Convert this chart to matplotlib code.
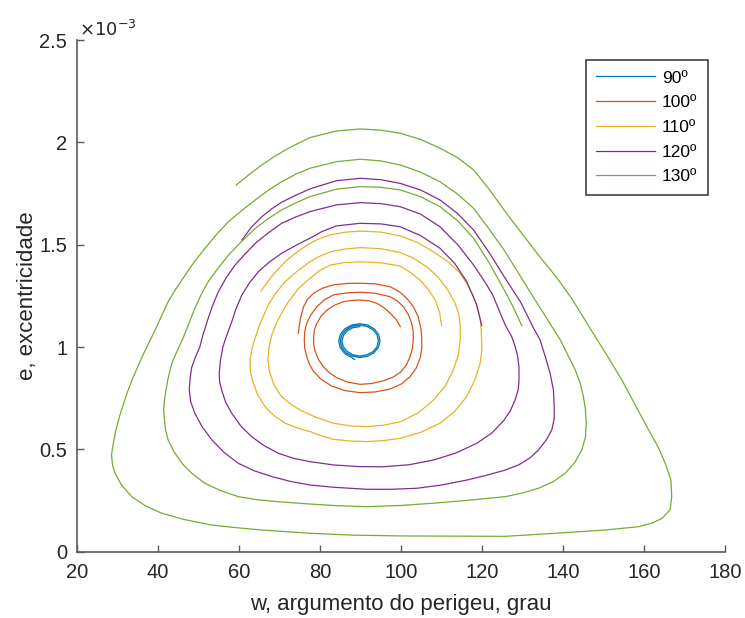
import matplotlib.pyplot as plt
from matplotlib.ticker import FuncFormatter

plt.rcParams['font.family'] = ['Liberation Sans', 'DejaVu Sans']

labels = ['90º', '100º', '110º', '120º', '130º']
colors = ['#0072BD', '#D95319', '#EDB120', '#7E2F8E', '#77AC30']

# (w in degrees, e in units of 1e-3), read along each trajectory from its start
pts_90 = [(89.80, 1.100), (88.14, 1.095), (86.72, 1.080), (85.76, 1.057), (85.40, 1.030),
          (85.71, 1.002), (86.65, 0.979), (88.09, 0.962), (89.80, 0.956), (91.53, 0.962),
          (93.02, 0.977), (94.03, 1.001), (94.40, 1.030), (94.07, 1.059), (93.09, 1.084),
          (91.59, 1.101), (89.80, 1.107), (87.99, 1.102), (86.44, 1.085), (85.39, 1.060),
          (85.00, 1.030), (85.34, 0.999), (86.37, 0.973), (87.93, 0.956), (89.80, 0.949),
          (91.69, 0.955), (93.30, 0.972), (94.40, 0.999), (94.80, 1.030), (94.44, 1.062),
          (93.37, 1.089), (91.74, 1.108), (89.80, 1.114), (87.84, 1.108), (86.16, 1.090),
          (85.02, 1.063), (84.60, 1.030), (84.97, 0.997), (86.09, 0.968), (87.78, 0.949),
          (88.50, 0.939)]

pts_100 = [(99.8, 1.100), (98.8, 1.135), (97.3, 1.165), (95.8, 1.192), (94.0, 1.214),
           (92.0, 1.226), (89.9, 1.230), (87.8, 1.228), (85.8, 1.222), (83.6, 1.205),
           (81.7, 1.181), (80.2, 1.150), (79.2, 1.116), (78.6, 1.085), (78.4, 1.051),
           (78.4, 1.015), (78.8, 0.978), (79.6, 0.940), (80.8, 0.904), (82.3, 0.875),
           (84.1, 0.850), (86.9, 0.828), (89.9, 0.818), (92.8, 0.822), (95.6, 0.835),
           (98.0, 0.853), (99.8, 0.877), (101.3, 0.912), (102.2, 0.953), (102.8, 0.995),
           (103.0, 1.035), (103.0, 1.075), (102.6, 1.116), (101.8, 1.158), (100.6, 1.197),
           (99.1, 1.225), (97.3, 1.246), (93.6, 1.263), (89.9, 1.268), (86.6, 1.265),
           (83.3, 1.255), (81.0, 1.230), (79.2, 1.197), (77.7, 1.157), (76.7, 1.116),
           (76.2, 1.075), (76.1, 1.035), (76.2, 0.995), (76.7, 0.953), (77.4, 0.915),
           (78.4, 0.880), (80.3, 0.842), (82.8, 0.810), (86.2, 0.787), (89.9, 0.777),
           (93.7, 0.781), (97.3, 0.795), (100.1, 0.820), (102.2, 0.855), (103.8, 0.900),
           (104.8, 0.953), (105.1, 0.995), (105.1, 1.035), (104.9, 1.090), (104.2, 1.149),
           (103.1, 1.195), (101.4, 1.238), (99.6, 1.270), (97.3, 1.295), (93.6, 1.309),
           (89.9, 1.312), (86.6, 1.311), (83.3, 1.304), (80.6, 1.288), (78.4, 1.263),
           (76.9, 1.233), (75.9, 1.197), (75.1, 1.135), (74.6, 1.067)]

pts_110 = [(110.0, 1.105), (109.5, 1.170), (108.4, 1.230), (106.8, 1.280), (104.7, 1.327),
           (102.3, 1.365), (99.8, 1.396), (95.0, 1.412), (89.9, 1.417), (86.0, 1.413),
           (82.5, 1.401), (79.8, 1.373), (77.5, 1.336), (74.6, 1.285), (72.2, 1.222),
           (70.6, 1.170), (69.3, 1.120), (68.1, 1.060), (67.4, 1.000), (67.1, 0.940),
           (67.5, 0.880), (68.6, 0.815), (70.5, 0.758), (72.8, 0.720), (75.3, 0.690),
           (79.2, 0.655), (83.3, 0.628), (87.4, 0.615), (91.5, 0.611), (95.6, 0.618),
           (99.8, 0.635), (104.2, 0.678), (108.0, 0.741), (110.9, 0.810), (112.9, 0.888),
           (114.1, 0.960), (114.6, 1.035), (114.6, 1.100), (114.3, 1.157), (113.2, 1.220),
           (111.5, 1.279), (109.2, 1.340), (106.5, 1.390), (103.2, 1.433), (99.8, 1.462),
           (95.0, 1.481), (89.9, 1.486), (86.0, 1.479), (82.5, 1.465), (79.8, 1.443),
           (77.5, 1.417), (74.3, 1.370), (71.4, 1.320), (69.1, 1.265), (67.2, 1.206),
           (65.3, 1.120), (63.8, 1.035), (63.1, 0.985), (62.7, 0.937), (62.8, 0.880),
           (63.5, 0.823), (64.7, 0.763), (66.4, 0.709), (68.6, 0.665), (71.4, 0.628),
           (74.3, 0.605), (77.5, 0.587), (80.3, 0.566), (83.3, 0.549), (87.4, 0.541),
           (91.5, 0.538), (95.6, 0.543), (99.8, 0.554), (104.8, 0.583), (109.6, 0.628),
           (113.2, 0.685), (116.2, 0.758), (118.2, 0.840), (119.5, 0.921), (119.9, 0.980),
           (119.9, 1.035), (119.6, 1.130), (118.9, 1.190), (117.8, 1.250), (116.2, 1.310),
           (114.3, 1.367), (111.4, 1.420), (108.0, 1.465), (104.2, 1.510), (99.8, 1.543),
           (95.0, 1.562), (89.9, 1.567), (86.0, 1.561), (82.5, 1.548), (79.8, 1.530),
           (77.5, 1.507), (74.3, 1.465), (71.4, 1.417), (68.2, 1.350), (65.4, 1.274)]

pts_120 = [(119.9, 1.105), (118.6, 1.210), (116.2, 1.320), (113.2, 1.410), (109.6, 1.483),
           (104.8, 1.545), (99.8, 1.588), (95.0, 1.602), (89.9, 1.605), (84.0, 1.592),
           (80.5, 1.565), (77.5, 1.532), (74.0, 1.497), (70.5, 1.458), (67.5, 1.416),
           (64.8, 1.369), (62.6, 1.315), (60.7, 1.255), (59.3, 1.190), (58.3, 1.130),
           (57.0, 1.060), (56.0, 1.000), (55.4, 0.935), (55.1, 0.872), (55.2, 0.830),
           (55.7, 0.790), (56.7, 0.730), (58.2, 0.676), (60.4, 0.615), (63.1, 0.562),
           (66.2, 0.518), (69.7, 0.481), (73.5, 0.456), (77.5, 0.440), (83.3, 0.424),
           (89.5, 0.416), (95.6, 0.415), (102.0, 0.425), (108.0, 0.448), (113.5, 0.482),
           (118.7, 0.530), (122.4, 0.580), (125.3, 0.640), (127.0, 0.690), (128.1, 0.740),
           (128.9, 0.790), (129.1, 0.839), (129.1, 0.900), (128.8, 0.953), (128.2, 1.000),
           (127.3, 1.051), (125.7, 1.108), (122.5, 1.260), (120.3, 1.330), (117.9, 1.401),
           (114.0, 1.500), (109.6, 1.588), (104.8, 1.650), (99.8, 1.686), (95.0, 1.701),
           (89.9, 1.706), (84.0, 1.695), (77.5, 1.662), (74.0, 1.636), (70.5, 1.605),
           (67.2, 1.558), (64.0, 1.507), (61.5, 1.455), (59.0, 1.401), (56.8, 1.338),
           (54.9, 1.271), (53.4, 1.200), (52.2, 1.130), (51.1, 1.060), (50.3, 1.000),
           (49.2, 0.950), (48.3, 0.900), (47.9, 0.845), (47.7, 0.790), (48.1, 0.730),
           (49.1, 0.676), (50.9, 0.610), (53.3, 0.546), (56.3, 0.485), (59.8, 0.432),
           (63.8, 0.395), (68.1, 0.367), (72.8, 0.343), (77.5, 0.326), (83.3, 0.315),
           (91.5, 0.305), (97.5, 0.305), (103.9, 0.310), (110.0, 0.326), (116.2, 0.350),
           (121.0, 0.373), (125.7, 0.399), (129.0, 0.424), (131.8, 0.458), (133.9, 0.497),
           (135.8, 0.545), (137.2, 0.595), (137.8, 0.650), (137.8, 0.709), (137.6, 0.790),
           (136.8, 0.870), (135.6, 0.953), (134.3, 1.035), (132.5, 1.100), (129.5, 1.220),
           (125.7, 1.336), (121.8, 1.460), (117.9, 1.572), (113.8, 1.655), (109.6, 1.719),
           (104.8, 1.768), (99.8, 1.800), (95.0, 1.818), (89.9, 1.825), (84.0, 1.813),
           (77.5, 1.773), (74.0, 1.742), (70.5, 1.708), (68.0, 1.675), (65.6, 1.637),
           (63.0, 1.585), (60.7, 1.523)]

pts_130 = [(129.8, 1.105), (127.8, 1.190), (125.7, 1.271), (121.8, 1.410), (117.9, 1.532),
           (113.8, 1.620), (109.6, 1.686), (104.8, 1.735), (99.8, 1.768), (95.0, 1.781),
           (89.9, 1.784), (84.0, 1.772), (77.5, 1.735), (74.0, 1.705), (70.5, 1.670),
           (67.2, 1.628), (64.0, 1.580), (60.7, 1.518), (57.4, 1.450), (54.8, 1.385),
           (52.4, 1.320), (50.6, 1.255), (49.1, 1.190), (47.7, 1.120), (46.3, 1.050),
           (44.7, 0.980), (43.4, 0.921), (42.4, 0.840), (41.7, 0.758), (41.4, 0.700),
           (41.5, 0.660), (41.8, 0.600), (42.5, 0.546), (43.9, 0.490), (45.9, 0.432),
           (48.5, 0.380), (51.6, 0.334), (55.5, 0.298), (59.8, 0.269), (64.5, 0.254),
           (69.7, 0.244), (77.5, 0.233), (84.0, 0.225), (91.5, 0.220), (100.0, 0.226),
           (108.0, 0.237), (117.0, 0.252), (125.7, 0.269), (130.0, 0.287), (133.9, 0.310),
           (137.5, 0.342), (140.5, 0.383), (142.9, 0.437), (144.6, 0.497), (145.5, 0.560),
           (145.7, 0.628), (145.5, 0.695), (145.0, 0.758), (144.2, 0.823), (143.0, 0.888),
           (141.2, 0.960), (139.3, 1.035), (135.8, 1.145), (132.3, 1.255), (129.0, 1.360),
           (125.7, 1.466), (121.8, 1.575), (117.9, 1.678), (113.8, 1.750), (109.6, 1.808),
           (104.8, 1.855), (99.8, 1.890), (95.0, 1.910), (89.9, 1.918), (84.0, 1.906),
           (77.5, 1.874), (74.0, 1.845), (70.5, 1.808), (67.2, 1.766), (64.0, 1.719),
           (60.7, 1.668), (57.4, 1.613), (54.4, 1.550), (51.6, 1.483), (49.0, 1.418),
           (46.7, 1.352), (44.5, 1.287), (42.5, 1.222), (40.8, 1.150), (39.3, 1.084),
           (37.7, 1.020), (36.3, 0.962), (34.9, 0.900), (33.6, 0.840), (32.4, 0.778),
           (31.4, 0.718), (30.4, 0.655), (29.6, 0.595), (29.0, 0.534), (28.5, 0.473),
           (28.8, 0.420), (29.4, 0.383), (31.0, 0.325), (33.5, 0.269), (36.8, 0.225),
           (40.9, 0.188), (46.5, 0.157), (53.3, 0.130), (59.5, 0.117), (65.6, 0.106),
           (77.5, 0.090), (88.0, 0.081), (99.8, 0.077), (112.0, 0.076), (125.7, 0.075),
           (138.0, 0.090), (150.4, 0.106), (158.6, 0.122), (162.0, 0.140), (164.4, 0.163),
           (166.4, 0.204), (166.8, 0.269), (166.6, 0.350), (165.2, 0.432), (163.5, 0.510),
           (161.1, 0.595), (158.0, 0.710), (154.5, 0.839), (150.8, 0.960), (146.9, 1.084),
           (142.1, 1.238), (138.2, 1.345), (133.9, 1.450), (129.8, 1.556), (125.7, 1.662),
           (121.8, 1.770), (117.9, 1.866), (114.0, 1.925), (109.6, 1.972), (104.8, 2.015),
           (99.8, 2.045), (95.0, 2.060), (89.9, 2.066), (84.0, 2.056), (77.5, 2.024),
           (72.2, 1.972), (68.8, 1.932), (65.6, 1.890), (62.4, 1.842), (59.3, 1.792)]

series = [pts_90, pts_100, pts_110, pts_120, pts_130]

fig = plt.figure(figsize=(7.45, 6.18), dpi=100)
ax = fig.add_axes([0.1034, 0.1073, 0.870, 0.8277])

for pts, lab, c in zip(series, labels, colors):
    w = [p[0] for p in pts]
    e = [p[1] * 1e-3 for p in pts]
    ax.plot(w, e, color=c, lw=0.9, label=lab)

ax.set_xlim(20, 180)
ax.set_ylim(0, 2.5e-3)
ax.set_xticks(range(20, 181, 20))
ax.set_yticks([0, 0.5e-3, 1e-3, 1.5e-3, 2e-3, 2.5e-3])
ax.yaxis.set_major_formatter(FuncFormatter(lambda v, p: f'{v * 1e3:g}'))
ax.text(0.003, 1.0, r'$\times10^{-3}$', transform=ax.transAxes,
        fontsize=13, color='#262626', ha='left', va='bottom')

for s in ['top', 'right']:
    ax.spines[s].set_visible(False)
for s in ['left', 'bottom']:
    ax.spines[s].set_color('#5a5a5a')
    ax.spines[s].set_linewidth(1.2)
ax.tick_params(direction='in', length=5, width=1.0, color='#5a5a5a',
               labelcolor='#262626', labelsize=14.5)
ax.tick_params(axis='x', pad=8)
ax.tick_params(axis='y', pad=7)

ax.set_xlabel('w, argumento do perigeu, grau', fontsize=16, color='#262626',
              labelpad=9)
ax.set_ylabel('e, excentricidade', fontsize=16, color='#262626', labelpad=1)

leg = ax.legend(loc='upper right', bbox_to_anchor=(0.950, 0.903),
                bbox_transform=fig.transFigure, fontsize=12.5, fancybox=False,
                framealpha=1, edgecolor='#404040', handlelength=3.4,
                handletextpad=0.4, borderpad=0.6, labelspacing=0.55,
                borderaxespad=0)
leg.get_frame().set_linewidth(1.2)

fig.savefig('out.png', dpi=100)
